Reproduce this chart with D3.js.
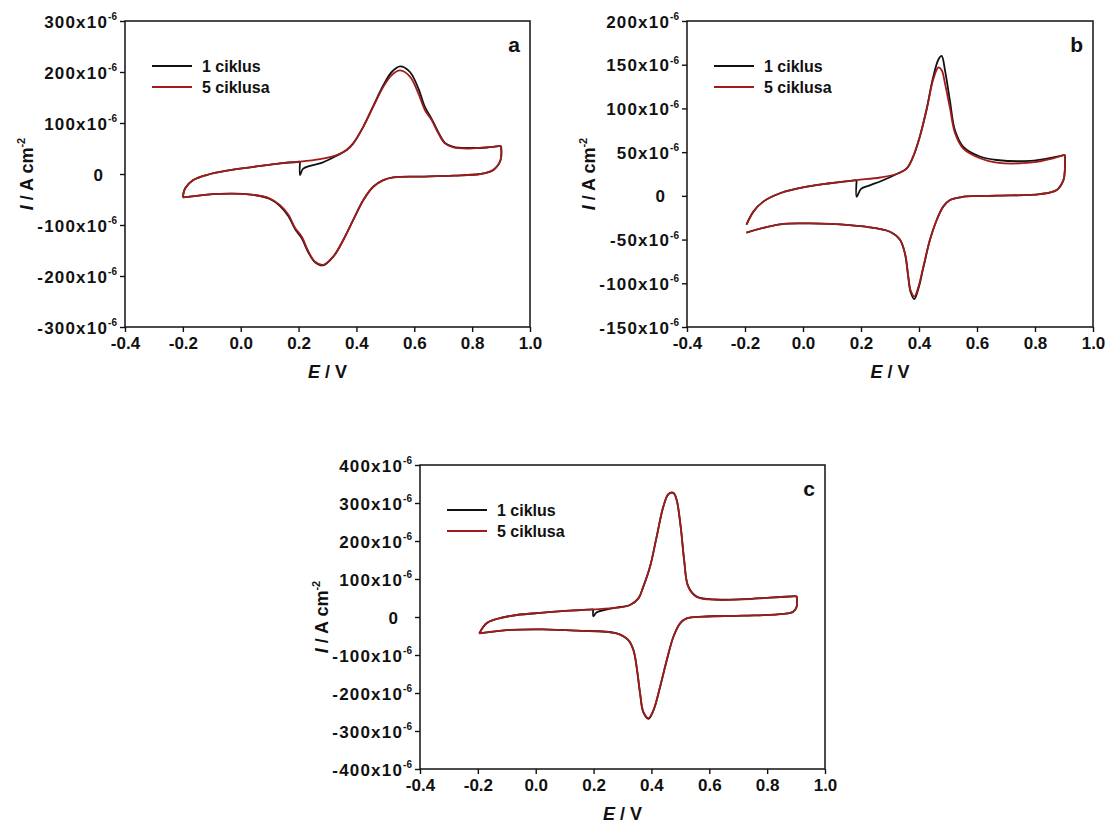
<!DOCTYPE html>
<html>
<head>
<meta charset="utf-8">
<script src="https://cdn.jsdelivr.net/npm/d3@7"></script>
<style>
  html, body { margin: 0; padding: 0; background: #fff; }
  svg text { font-family: "Liberation Sans", Arial, sans-serif; }
</style>
</head>
<body>
<svg id="chart" width="1109" height="826"></svg>
<script>
// ---------------- DATA (current in units of 10^-6 A cm^-2, potential in V) ----------------
const xTicks = [-0.4, -0.2, 0.0, 0.2, 0.4, 0.6, 0.8, 1.0];
const seriesNames = ["1 ciklus", "5 ciklusa"];
const panelLetters = ["a", "b", "c"];

// Panel a
const aYTicks = [-300, -200, -100, 0, 100, 200, 300];
const aFwdE  = [-0.2, -0.192, -0.164, -0.118, -0.048, 0.044, 0.136, 0.205, 0.274, 0.332, 0.366, 0.389, 0.424, 0.458, 0.493, 0.522, 0.551, 0.585, 0.614, 0.637, 0.66, 0.683, 0.706, 0.735, 0.792, 0.85, 0.9];
const aFwdI5 = [-46, -28, -12, -2, 6.5, 14, 21, 24, 29, 37, 47, 60, 93, 132, 171, 194, 203, 191, 158, 125, 106, 80, 60, 52, 50, 52, 55];
const aFwdI1 = [-46, -28, -12, -2, 6.5, 14, 21, 24, 29, 37, 47, 60, 93, 133, 174, 200, 211, 200, 168, 131, 108, 82, 61, 53, 51, 52, 55];
const aRevE  = [0.9, 0.898, 0.873, 0.827, 0.735, 0.62, 0.527, 0.493, 0.458, 0.424, 0.389, 0.355, 0.32, 0.285, 0.257, 0.234, 0.211, 0.188, 0.165, 0.136, 0.101, 0.044, -0.072, -0.2];
const aRevI5 = [55, 27, 8, 0, -3, -5, -6.5, -12, -25, -51, -90, -129, -162, -178, -172, -152, -123, -106, -80, -61, -48, -41, -39, -46];
const aRevI1 = [55, 27, 8, 0, -3, -5, -6.5, -12, -25, -51, -90, -129, -162, -179, -173, -154, -126, -108, -83, -63, -49, -41, -39, -46];
const aHookE  = [0.205, 0.205, 0.215, 0.24, 0.28, 0.332];
const aHookI1 = [24, -2, 10, 16, 22, 36];

// Panel b
const bYTicks = [-150, -100, -50, 0, 50, 100, 150, 200];
const bFwdE  = [-0.195, -0.171, -0.137, -0.079, 0.013, 0.093, 0.185, 0.266, 0.323, 0.358, 0.38, 0.403, 0.426, 0.449, 0.467, 0.478, 0.49, 0.507, 0.524, 0.553, 0.61, 0.668, 0.783, 0.863, 0.903];
const bFwdI5 = [-33, -18, -6.6, 3, 10.5, 14.4, 18, 21, 25, 31.5, 45, 68, 98, 133, 147, 144, 128, 100, 72, 54, 43, 38, 38, 43, 47];
const bFwdI1 = [-33, -18, -6.6, 3, 10.5, 14.4, 18, 21, 25, 31.5, 45, 68, 99, 136, 156, 160, 143, 108, 75, 56, 45, 41, 40, 44, 47];
const bRevE  = [0.903, 0.903, 0.898, 0.875, 0.817, 0.668, 0.553, 0.507, 0.484, 0.461, 0.438, 0.415, 0.398, 0.384, 0.371, 0.363, 0.352, 0.334, 0.3, 0.208, 0.093, 0.013, -0.079, -0.195];
const bRevI5 = [47, 30, 18, 6.8, 2, 0.3, -1, -4.7, -12, -27.6, -50, -81, -104, -115, -108, -92, -66, -50, -41, -35, -32, -31.5, -32.5, -42];
const bRevI1 = [47, 30, 18, 6.8, 2, 0.3, -1, -4.7, -12, -27.6, -50, -82, -106, -118, -110, -93, -67, -50, -41, -35, -32, -31.5, -32.5, -42];
const bHookE  = [0.185, 0.185, 0.2, 0.23, 0.27, 0.323];
const bHookI1 = [18, -1, 8, 12, 17, 25];

// Panel c
const cYTicks = [-400, -300, -200, -100, 0, 100, 200, 300, 400];
const cFwdE  = [-0.195, -0.17, -0.135, -0.066, 0.026, 0.118, 0.199, 0.28, 0.326, 0.355, 0.372, 0.395, 0.418, 0.441, 0.459, 0.476, 0.487, 0.501, 0.513, 0.527, 0.556, 0.626, 0.717, 0.81, 0.902];
const cFwdI5 = [-43, -16.6, -5.3, 5.3, 11.4, 16.7, 20, 24.6, 31.6, 49, 80, 132, 211, 290, 323, 326, 308, 238, 150, 80, 53, 45, 46.5, 51, 55];
const cFwdI1 = [-43, -16.6, -5.3, 5.3, 11.4, 16.7, 20, 24.6, 31.6, 49, 80, 132, 211, 290, 324, 327, 309, 239, 151, 81, 54, 46, 47, 51, 55];
const cRevE  = [0.902, 0.902, 0.89, 0.856, 0.717, 0.579, 0.522, 0.499, 0.476, 0.453, 0.43, 0.407, 0.39, 0.372, 0.361, 0.349, 0.338, 0.32, 0.28, 0.142, 0.026, -0.089, -0.195];
const cRevI5 = [55, 27, 14, 8, 3.5, 1, -3.5, -16.6, -52, -113, -183, -245, -266, -249, -201, -131, -87, -60.5, -43, -36, -32.5, -34, -43];
const cRevI1 = [55, 27, 14, 8, 3.5, 1, -3.5, -16.6, -52, -114, -184, -246, -268, -251, -203, -133, -88, -61, -43, -36, -32.5, -34, -43];
const cHookE  = [0.199, 0.199, 0.21, 0.24, 0.28];
const cHookI1 = [20, 2, 12, 19, 24.6];

// ---------------- LAYOUT ----------------
const colors = ["#111111", "#a01c1c"];
const panels = [
  { letter: panelLetters[0], x0: 125, x1: 530, y0: 21, y1: 327, yDomain: [-300, 300], yTicks: aYTicks,
    fwdE: aFwdE, fwdI: [aFwdI1, aFwdI5], revE: aRevE, revI: [aRevI1, aRevI5], hookE: aHookE, hookI: aHookI1 },
  { letter: panelLetters[1], x0: 687, x1: 1093, y0: 21, y1: 327, yDomain: [-150, 200], yTicks: bYTicks,
    fwdE: bFwdE, fwdI: [bFwdI1, bFwdI5], revE: bRevE, revI: [bRevI1, bRevI5], hookE: bHookE, hookI: bHookI1 },
  { letter: panelLetters[2], x0: 420, x1: 825, y0: 465, y1: 769, yDomain: [-400, 400], yTicks: cYTicks,
    fwdE: cFwdE, fwdI: [cFwdI1, cFwdI5], revE: cRevE, revI: [cRevI1, cRevI5], hookE: cHookE, hookI: cHookI1 }
];

const svg = d3.select("#chart");
const zip = (E, I) => E.map((e, i) => [e, I[i]]);

panels.forEach(p => {
  const g = svg.append("g");
  const x = d3.scaleLinear().domain([-0.4, 1.0]).range([p.x0, p.x1]);
  const y = d3.scaleLinear().domain(p.yDomain).range([p.y1, p.y0]);
  const line = d3.line().x(d => x(d[0])).y(d => y(d[1])).curve(d3.curveCatmullRom.alpha(0.5));

  // x axis
  const xa = g.append("g").attr("transform", `translate(0,${p.y1})`)
    .call(d3.axisBottom(x).tickValues(xTicks).tickSize(5).tickSizeOuter(0).tickPadding(5)
      .tickFormat(d => d.toFixed(1)));
  xa.select(".domain").remove();
  xa.selectAll("line").attr("stroke", "#111").attr("stroke-width", 1.4);
  xa.selectAll("text").attr("font-size", 17).attr("font-weight", "bold").attr("fill", "#111")
    .attr("font-family", "Liberation Sans, Arial, sans-serif");

  // y axis
  const ya = g.append("g").attr("transform", `translate(${p.x0},0)`)
    .call(d3.axisLeft(y).tickValues(p.yTicks).tickSize(5).tickSizeOuter(0).tickPadding(3).tickFormat(""));
  ya.select(".domain").remove();
  ya.selectAll("line").attr("stroke", "#111").attr("stroke-width", 1.4);
  ya.selectAll(".tick").each(function(d) {
    const t = d3.select(this).select("text")
      .attr("font-size", 17).attr("font-weight", "bold").attr("fill", "#111")
      .attr("font-family", "Liberation Sans, Arial, sans-serif").attr("dy", "0.36em");
    if (d === 0) { t.text("0").attr("dx", -14); }
    else {
      t.append("tspan").text(`${d}x10`).attr("letter-spacing", 1.2);
      t.append("tspan").text("-6").attr("font-size", 10).attr("dy", "-0.75em");
    }
  });

  // frame
  g.append("rect").attr("x", p.x0).attr("y", p.y0).attr("width", p.x1 - p.x0).attr("height", p.y1 - p.y0)
    .attr("fill", "none").attr("stroke", "#111").attr("stroke-width", 1.5);

  // curves: black (1 ciklus) first, then red (5 ciklusa) on top
  const hookEnd = p.hookE[p.hookE.length - 1];
  const hookStart = p.hookE[0];
  const fwd1 = zip(p.fwdE, p.fwdI[0]);
  const blackPaths = [
    zip(p.hookE, p.hookI).concat(fwd1.filter(d => d[0] > hookEnd)),
    zip(p.revE, p.revI[0]),
    fwd1.filter(d => d[0] <= hookStart + 1e-9).concat([[hookStart, p.hookI[0]]])
  ];
  const redPaths = [zip(p.fwdE, p.fwdI[1]), zip(p.revE, p.revI[1])];

  [blackPaths, redPaths].forEach((paths, si) => {
    paths.forEach(pts => {
      g.append("path").attr("d", line(pts)).attr("fill", "none")
        .attr("stroke", colors[si]).attr("stroke-width", 1.8).attr("stroke-linejoin", "round");
    });
  });

  // legend
  seriesNames.forEach((name, i) => {
    const ly = p.y0 + 45 + i * 21;
    g.append("line").attr("x1", p.x0 + 27).attr("x2", p.x0 + 67).attr("y1", ly).attr("y2", ly)
      .attr("stroke", colors[i]).attr("stroke-width", 1.8);
    g.append("text").attr("x", p.x0 + 77).attr("y", ly).attr("dy", "0.36em")
      .attr("font-size", 16).attr("font-weight", "bold").attr("fill", "#111").text(name);
  });

  // panel letter
  g.append("text").attr("x", p.x1 - 10).attr("y", p.y0 + 31).attr("text-anchor", "end")
    .attr("font-size", 21).attr("font-weight", "bold").attr("fill", "#111").text(p.letter);

  // x axis title
  const xt = g.append("text").attr("x", (p.x0 + p.x1) / 2).attr("y", p.y1 + 51).attr("text-anchor", "middle")
    .attr("font-size", 18).attr("font-weight", "bold").attr("fill", "#111");
  xt.append("tspan").text("E").attr("font-style", "italic");
  xt.append("tspan").text(" / V");

  // y axis title
  const cy = (p.y0 + p.y1) / 2;
  const yt = g.append("text").attr("transform", `translate(${p.x0 - 92},${cy}) rotate(-90)`)
    .attr("text-anchor", "middle").attr("font-size", 18).attr("font-weight", "bold").attr("fill", "#111");
  yt.append("tspan").text("I").attr("font-style", "italic");
  yt.append("tspan").text(" / A cm");
  yt.append("tspan").text("-2").attr("font-size", 11).attr("dy", "-0.7em");
});
</script>
</body>
</html>
